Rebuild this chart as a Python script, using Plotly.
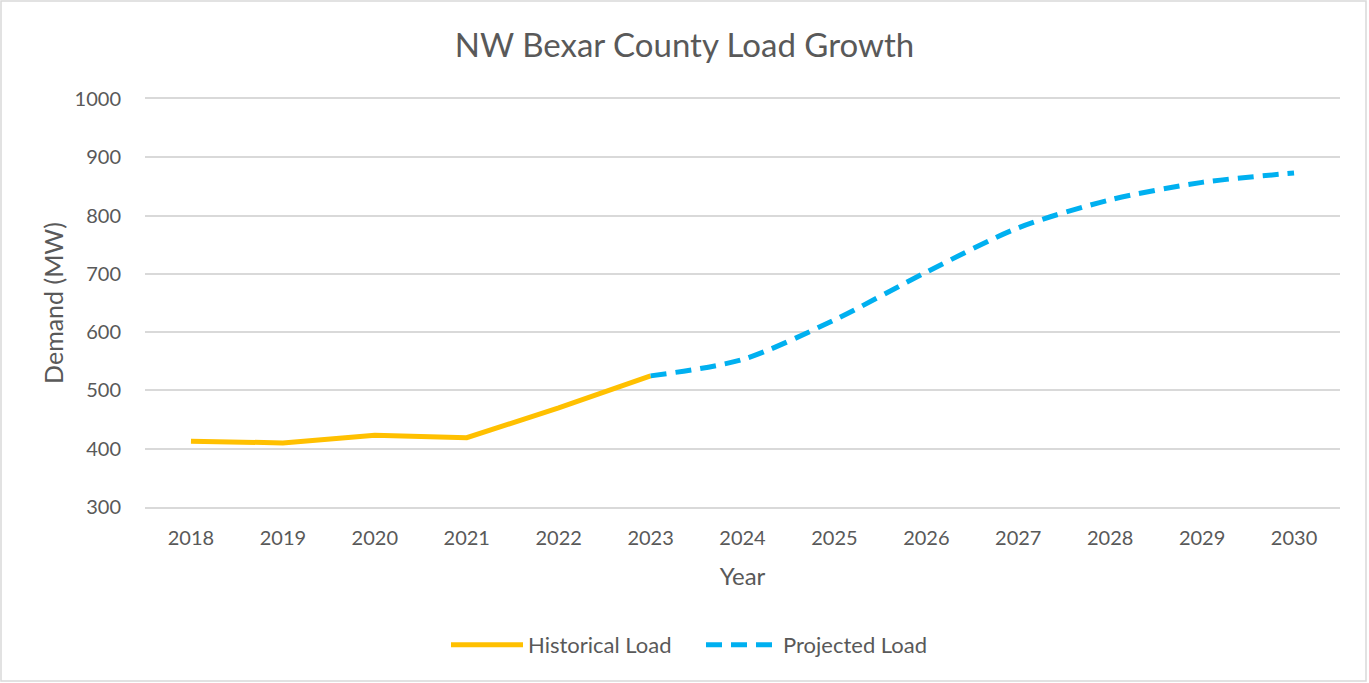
import plotly.graph_objects as go

years = ["2018", "2019", "2020", "2021", "2022", "2023", "2024", "2025",
         "2026", "2027", "2028", "2029", "2030"]
hist_years = years[:6]
hist_load = [413, 410, 423, 419, 470, 525]
proj_years = years[5:]
proj_load = [525, 553, 621, 703, 779, 827, 857, 873]
y_ticks = [300, 400, 500, 600, 700, 800, 900, 1000]

W, H = 1369, 683
L, R, T, B = 145, 29, 99, 176
pw, ph = W - L - R, H - T - B

FONT = "Lato"
GREY = "#595959"
GRID = "#D9D9D9"

fig = go.Figure()
fig.add_trace(go.Scatter(
    x=hist_years, y=hist_load, mode="lines", name="Historical Load",
    line=dict(color="#FFC000", width=5),
))
fig.add_trace(go.Scatter(
    x=proj_years, y=proj_load, mode="lines", name="Projected Load",
    line=dict(color="#00B0F0", width=5, dash="16px,9px", shape="spline", smoothing=0.8),
))

# thin frame around the whole chart area
fig.add_shape(
    type="rect", xref="paper", yref="paper",
    x0=(1 - L) / pw, x1=(W - 3 - L) / pw,
    y0=(H - B - (H - 2)) / ph, y1=(H - B - 1) / ph,
    line=dict(color=GRID, width=1.5), layer="below",
)

fig.update_layout(
    width=W, height=H,
    margin=dict(l=L, r=R, t=T, b=B, autoexpand=False),
    paper_bgcolor="white", plot_bgcolor="white",
    font=dict(family=FONT, color=GREY, size=20),
    title=dict(text="NW Bexar County Load Growth", x=0.5, xanchor="center",
               y=1 - 45 / H, yanchor="middle",
               font=dict(family=FONT, size=33, color=GREY)),
    xaxis=dict(
        type="category", categoryorder="array", categoryarray=years,
        range=[-0.5, len(years) - 0.5],
        showgrid=False, zeroline=False,
        showline=True, mirror=True, linecolor=GRID, linewidth=1.5,
        ticks="", ticklabelstandoff=12,
        tickfont=dict(size=20, color=GREY),
        title=dict(text="Year", font=dict(size=24, color=GREY), standoff=20),
    ),
    yaxis=dict(
        range=[300, 1000], tickvals=y_ticks, showgrid=True,
        gridcolor=GRID, gridwidth=1.5, zeroline=False, showline=False,
        ticks="", ticklabelstandoff=23, tickfont=dict(size=20, color=GREY),
        title=dict(text="Demand (MW)", font=dict(size=25, color=GREY), standoff=3),
    ),
    legend=dict(orientation="h", x=(446 - L) / pw, xanchor="left",
                y=-(645 - (H - B)) / ph, yanchor="middle",
                font=dict(size=22, color=GREY),
                itemwidth=72, entrywidth=168, tracegroupgap=0),
    showlegend=True,
)

fig.write_html("out.html")
